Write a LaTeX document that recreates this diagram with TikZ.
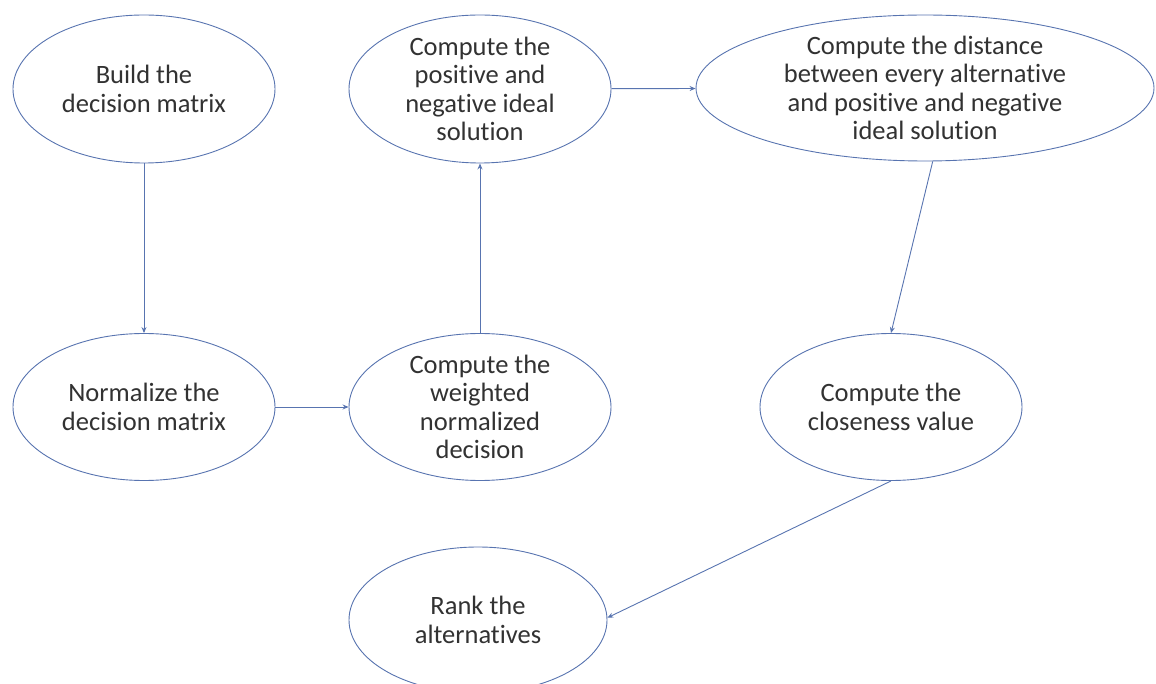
\documentclass[tikz,border=0pt]{standalone}
\usepackage{fontspec}
\setmainfont[Ligatures={NoCommon,NoRare,NoContextual},Contextuals={NoAlternate}]{Carlito}
\usetikzlibrary{shapes.geometric,arrows.meta}
\definecolor{edgeblue}{RGB}{88,116,176}
\definecolor{textgray}{RGB}{50,50,50}
\tikzset{
  stepshape/.style={ellipse, draw=edgeblue, line width=0.9pt, fill=white,
    inner sep=0pt, minimum width=#1},
  stepshape/.default=262pt,
  steptext/.style={align=center, text=textgray, inner sep=0pt,
    font=\fontsize{26.5}{28.5}\selectfont},
  flow/.style={draw=edgeblue, line width=0.9pt, -{Stealth[length=6pt,width=5pt]}}
}
\begin{document}
\begin{tikzpicture}[x=1pt,y=-1pt]
\useasboundingbox (0,0) rectangle (1156,684);
\clip (0,0) rectangle (1156,684);
% process steps
\node[stepshape, minimum height=148pt] (build) at (144,89) {};
\node[steptext] at (build) {Build the\\decision matrix};
\node[stepshape, minimum height=148pt] (ideal) at (480,89) {};
\node[steptext] at (ideal) {Compute the\\positive and\\negative ideal\\solution};
\node[stepshape=458pt, minimum height=146pt] (dist) at (925,88) {};
\node[steptext] at (dist) {Compute the distance\\between every alternative\\and positive and negative\\ideal solution};
\node[stepshape, minimum height=147pt] (norm) at (144,407) {};
\node[steptext] at (norm) {Normalize the\\decision matrix};
\node[stepshape, minimum height=147pt] (weight) at (480,407) {};
\node[steptext] at (weight) {Compute the\\weighted\\normalized\\decision};
\node[stepshape, minimum height=147pt] (close) at (891,407) {};
\node[steptext] at (close) {Compute the\\closeness value};
\node[stepshape=258pt, minimum height=146pt] (rank) at (478,620) {};
\node[steptext] at (rank) {Rank the\\alternatives};
% connectors
\draw[flow] (build) -- (norm);
\draw[flow] (norm) -- (weight);
\draw[flow] (weight) -- (ideal);
\draw[flow] (ideal) -- (dist);
\draw[flow] (dist.-84) -- (close.north);
\draw[flow] (close.south) -- (rank.1);
\end{tikzpicture}
\end{document}
